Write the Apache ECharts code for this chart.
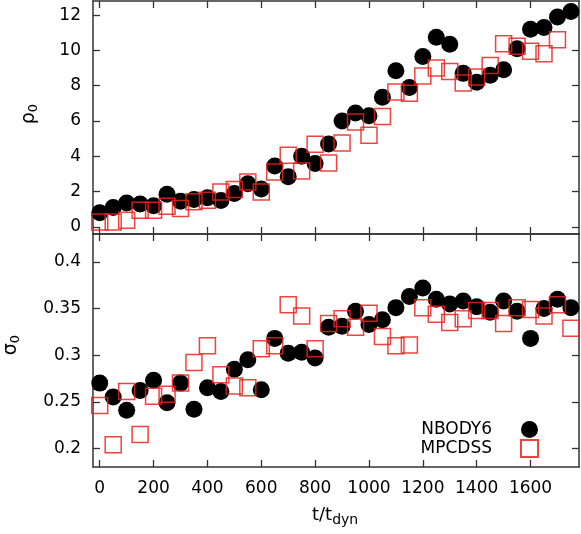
<!DOCTYPE html>
<html>
<head>
<meta charset="utf-8">
<script src="https://cdn.jsdelivr.net/npm/echarts@6/dist/echarts.min.js"></script>
<style>
  html, body { margin: 0; padding: 0; background: #fff; }
  #container { width: 581px; height: 534px; }
</style>
</head>
<body>
<div id="container"></div>
<script>
// time in units of t_dyn, one sample every 50
var times = [0, 50, 100, 150, 200, 250, 300, 350, 400, 450, 500, 550, 600, 650, 700, 750, 800, 850,
             900, 950, 1000, 1050, 1100, 1150, 1200, 1250, 1300, 1350, 1400, 1450, 1500, 1550, 1600, 1650, 1700, 1750];

var rhoNbody = [0.8, 1.1, 1.35, 1.3, 1.2, 1.85, 1.45, 1.55, 1.65, 1.5, 1.9, 2.45, 2.15, 3.45, 2.85, 4.0, 3.6, 4.7,
                6.0, 6.45, 6.3, 7.35, 8.85, 7.9, 9.65, 10.75, 10.35, 8.7, 8.2, 8.6, 8.9, 10.1, 11.2, 11.3, 11.9, 12.2];
var rhoMpcdss = [0.28, 0.28, 0.38, 0.94, 0.94, 1.17, 1.04, 1.42, 1.51, 1.98, 2.12, 2.55, 1.98, 3.11, 4.06, 3.17, 4.68, 3.62,
                 4.75, 5.94, 5.19, 6.26, 7.64, 7.58, 8.55, 9.0, 8.81, 8.15, 8.49, 9.15, 10.38, 10.23, 9.96, 9.81, 10.6];

var sigNbody = [0.270, 0.255, 0.241, 0.262, 0.273, 0.249, 0.270, 0.242, 0.265, 0.261, 0.285, 0.295, 0.263, 0.318, 0.302, 0.303, 0.297, 0.330,
                0.331, 0.347, 0.333, 0.338, 0.351, 0.363, 0.372, 0.360, 0.355, 0.358, 0.352, 0.346, 0.358, 0.347, 0.318, 0.350, 0.360, 0.351];
var sigMpcdss = [0.246, 0.204, 0.261, 0.215, 0.256, 0.258, 0.270, 0.292, 0.310, 0.279, 0.267, 0.265, 0.307, 0.310, 0.354, 0.342, 0.307, 0.334,
                 0.339, 0.330, 0.345, 0.320, 0.310, 0.311, 0.351, 0.344, 0.335, 0.339, 0.348, 0.348, 0.334, 0.351, 0.349, 0.342, 0.354, 0.329];

var xTicks = [0, 200, 400, 600, 800, 1000, 1200, 1400, 1600];
var rhoTicks = [0, 2, 4, 6, 8, 10, 12];
var sigTicks = [0.2, 0.25, 0.3, 0.35, 0.4];

function pairs(xs, ys) {
    var out = [];
    for (var i = 0; i < ys.length; i++) out.push([xs[i], ys[i]]);
    return out;
}

var FONT = 'DejaVu Sans';
var AXIS = '#333';
var RED = 'rgba(235, 35, 30, 0.85)';

function xAx(grid, pos, labels) {
    return {
        type: 'value', gridIndex: grid, position: pos, min: -25, max: 1780,
        splitLine: { show: false },
        axisLine: { show: true, onZero: false, lineStyle: { color: AXIS, width: 1.5 } },
        axisTick: { show: true, inside: true, length: 7, customValues: xTicks, lineStyle: { color: AXIS, width: 1.3 } },
        axisLabel: { show: labels, customValues: xTicks, margin: 13, color: '#000', fontFamily: FONT, fontSize: 17,
                     formatter: function (v) { return String(v); } }
    };
}

function yAx(grid, pos, min, max, ticks, labels, fmt) {
    return {
        type: 'value', gridIndex: grid, position: pos, min: min, max: max,
        splitLine: { show: false },
        axisLine: { show: true, onZero: false, lineStyle: { color: AXIS, width: 1.5 } },
        axisTick: { show: true, inside: true, length: 7, customValues: ticks, lineStyle: { color: AXIS, width: 1.3 } },
        axisLabel: { show: labels, customValues: ticks, margin: 12, color: '#000', fontFamily: FONT, fontSize: 17, formatter: fmt }
    };
}

var myChart = echarts.init(document.getElementById('container'));

var option = {
    animation: false,
    backgroundColor: '#fff',
    grid: [
        { left: 93, right: 2, top: 1, height: 233 },
        { left: 93, right: 2, top: 234, height: 233 }
    ],
    xAxis: [
        xAx(0, 'bottom', false),
        xAx(0, 'top', false),
        xAx(1, 'bottom', true),
        xAx(1, 'top', false)
    ],
    yAxis: [
        yAx(0, 'left', -0.4, 12.8, rhoTicks, true, function (v) { return String(v); }),
        yAx(0, 'right', -0.4, 12.8, rhoTicks, false),
        yAx(1, 'left', 0.18, 0.43, sigTicks, true, function (v) { return String(+v.toFixed(2)); }),
        yAx(1, 'right', 0.18, 0.43, sigTicks, false)
    ],
    legend: {
        orient: 'vertical', align: 'right', right: 37, top: 416,
        itemWidth: 17, itemHeight: 17, itemGap: 1,
        textStyle: { fontFamily: FONT, fontSize: 17, color: '#000', padding: [0, 24, 0, 0] },
        data: ['NBODY6', 'MPCDSS']
    },
    graphic: [
        {
            type: 'text', left: 20, top: 104, rotation: Math.PI / 2,
            style: { text: '{a|ρ}{s|0}', rich: { a: { fontFamily: FONT, fontSize: 19, fill: '#000' }, s: { fontFamily: FONT, fontSize: 13, fill: '#000', padding: [8, 0, 0, 0] } } }
        },
        {
            type: 'text', left: 2, top: 335, rotation: Math.PI / 2,
            style: { text: '{a|σ}{s|0}', rich: { a: { fontFamily: FONT, fontSize: 19, fill: '#000' }, s: { fontFamily: FONT, fontSize: 13, fill: '#000', padding: [8, 0, 0, 0] } } }
        },
        {
            type: 'text', left: 312, top: 506,
            style: { text: '{a|t/t}{s|dyn}', rich: { a: { fontFamily: FONT, fontSize: 18, fill: '#000' }, s: { fontFamily: FONT, fontSize: 14, fill: '#000', padding: [10, 0, 0, 0] } } }
        }
    ],
    series: [
        {
            name: 'NBODY6', type: 'scatter', xAxisIndex: 0, yAxisIndex: 0,
            symbol: 'circle', symbolSize: 17, itemStyle: { color: '#000', opacity: 1 },
            data: pairs(times, rhoNbody)
        },
        {
            name: 'MPCDSS', type: 'scatter', xAxisIndex: 0, yAxisIndex: 0,
            symbol: 'rect', symbolSize: 16,
            itemStyle: { color: 'rgba(0,0,0,0)', borderColor: RED, borderWidth: 1.5, opacity: 1 },
            data: pairs(times, rhoMpcdss)
        },
        {
            name: 'NBODY6', type: 'scatter', xAxisIndex: 2, yAxisIndex: 2,
            symbol: 'circle', symbolSize: 17, itemStyle: { color: '#000', opacity: 1 },
            data: pairs(times, sigNbody)
        },
        {
            name: 'MPCDSS', type: 'scatter', xAxisIndex: 2, yAxisIndex: 2,
            symbol: 'rect', symbolSize: 16,
            itemStyle: { color: 'rgba(0,0,0,0)', borderColor: RED, borderWidth: 1.5, opacity: 1 },
            data: pairs(times, sigMpcdss)
        }
    ]
};

myChart.setOption(option);
</script>
</body>
</html>
